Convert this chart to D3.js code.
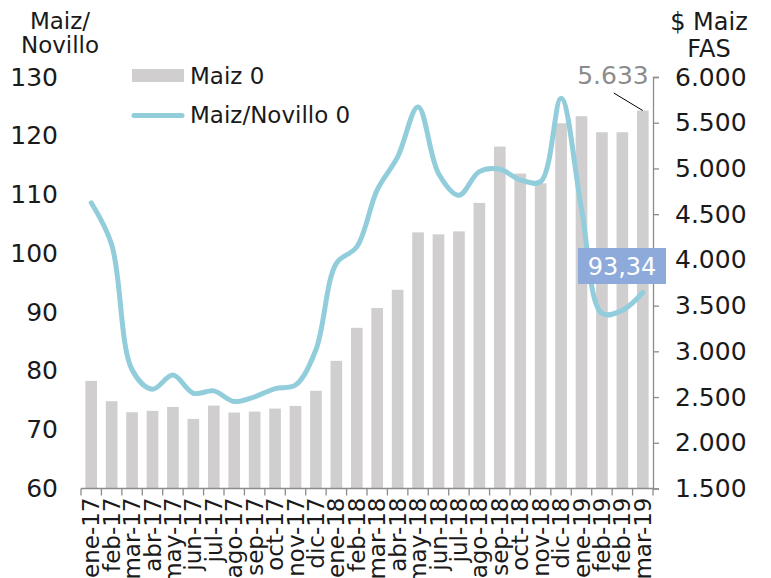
<!DOCTYPE html>
<html>
<head>
<meta charset="utf-8">
<script src="https://cdn.jsdelivr.net/npm/d3@7"></script>
<style>
  body { margin: 0; background: #fff; }
  svg { font-family: "DejaVu Sans", sans-serif; }
</style>
</head>
<body>
<svg id="chart" width="771" height="578"></svg>
<script>
// meses (feb-19 aparece dos veces en el original)
var months = ['ene-17','feb-17','mar-17','abr-17','may-17','jun-17','jul-17','ago-17','sep-17','oct-17','nov-17','dic-17',
              'ene-18','feb-18','mar-18','abr-18','may-18','jun-18','jul-18','ago-18','sep-18','oct-18','nov-18','dic-18',
              'ene-19','feb-19','feb-19','mar-19'];
// $ Maiz FAS (barras, eje derecho)
var maiz = [2677, 2455, 2334, 2349, 2392, 2261, 2407, 2330, 2341, 2374, 2403, 2568,
            2896, 3257, 3473, 3673, 4301, 4279, 4312, 4623, 5239, 4944, 4837, 5494,
            5571, 5396, 5396, 5633];
// relacion Maiz/Novillo (linea, eje izquierdo)
var maizNovillo = [108.6, 101.5, 80.2, 76.9, 79.3, 76.2, 76.6, 74.8, 75.6, 77.0, 77.6, 83.6,
                   98.3, 101.1, 110.8, 116.4, 124.9, 113.6, 109.9, 113.9, 114.3, 112.5, 112.2, 126.4,
                   107.6, 89.8, 90.3, 93.34];
var leftTicks = [60, 70, 80, 90, 100, 110, 120, 130];
var rightTicks = [1500, 2000, 2500, 3000, 3500, 4000, 4500, 5000, 5500, 6000];

var svg = d3.select("#chart");
var pLeft = 81, pRight = 653, pTop = 77, pBottom = 488.5;

var locale = d3.formatLocale({decimal: ",", thousands: ".", grouping: [3], currency: ["$", ""]});
var fmtMiles = locale.format(",");
var fmtDec = locale.format(".2f");

var x = d3.scaleBand().domain(d3.range(months.length)).range([pLeft, pRight]).padding(0);
var yL = d3.scaleLinear().domain([60, 130]).range([pBottom, pTop]);
var yR = d3.scaleLinear().domain([1500, 6000]).range([pBottom, pTop]);

var barW = x.bandwidth() * 0.57;

// barras
svg.append("g").selectAll("rect")
  .data(maiz)
  .enter().append("rect")
  .attr("x", function(d, i) { return x(i) + (x.bandwidth() - barW) / 2; })
  .attr("width", barW)
  .attr("y", function(d) { return yR(d); })
  .attr("height", function(d) { return yR(1500) - yR(d); })
  .attr("fill", "#d0cecf");

// eje x
var gx = svg.append("g").attr("transform", "translate(0," + pBottom + ")");
gx.append("line").attr("x1", pLeft).attr("x2", pRight).attr("stroke", "#8c8c8c").attr("stroke-width", 1.3);
gx.selectAll(".tk")
  .data(d3.range(months.length + 1))
  .enter().append("line")
  .attr("x1", function(i) { return i < months.length ? x(i) : pRight; })
  .attr("x2", function(i) { return i < months.length ? x(i) : pRight; })
  .attr("y1", 0).attr("y2", 7)
  .attr("stroke", "#8c8c8c").attr("stroke-width", 1.3);
gx.selectAll("text")
  .data(months)
  .enter().append("text")
  .attr("transform", function(d, i) {
    return "translate(" + (x(i) + x.bandwidth() / 2 + 8) + ",9) rotate(-90)";
  })
  .attr("text-anchor", "end")
  .attr("font-size", 23)
  .attr("fill", "#1a1a1a")
  .text(function(d) { return d; });

// eje derecho
var gr = svg.append("g")
  .attr("transform", "translate(" + pRight + ",0)")
  .call(d3.axisRight(yR).tickValues(rightTicks).tickFormat(fmtMiles).tickSize(6).tickPadding(16));
gr.select(".domain").attr("stroke", "#8c8c8c").attr("stroke-width", 1.3);
gr.selectAll(".tick line").attr("stroke", "#8c8c8c").attr("stroke-width", 1.3);
gr.selectAll(".tick text").attr("font-size", 25).attr("fill", "#1a1a1a").attr("font-family", "DejaVu Sans");

// eje izquierdo (solo etiquetas)
var gl = svg.append("g")
  .attr("transform", "translate(" + pLeft + ",0)")
  .call(d3.axisLeft(yL).tickValues(leftTicks).tickSize(0).tickPadding(23));
gl.select(".domain").remove();
gl.selectAll(".tick text").attr("font-size", 25).attr("fill", "#1a1a1a").attr("font-family", "DejaVu Sans");

// linea Maiz/Novillo
var line = d3.line()
  .x(function(d, i) { return x(i) + x.bandwidth() / 2; })
  .y(function(d) { return yL(d); })
  .curve(d3.curveCatmullRom.alpha(0.5));
svg.append("path")
  .datum(maizNovillo)
  .attr("d", line)
  .attr("fill", "none")
  .attr("stroke", "#92cddc")
  .attr("stroke-width", 5)
  .attr("stroke-linecap", "round");

// titulos de ejes
svg.append("text").attr("x", 60).attr("y", 29).attr("text-anchor", "middle")
  .attr("font-size", 23).attr("fill", "#1a1a1a").text("Maiz/");
svg.append("text").attr("x", 60).attr("y", 53).attr("text-anchor", "middle")
  .attr("font-size", 23).attr("fill", "#1a1a1a").text("Novillo");
svg.append("text").attr("x", 709).attr("y", 30).attr("text-anchor", "middle")
  .attr("font-size", 24).attr("fill", "#1a1a1a").text("$ Maiz");
svg.append("text").attr("x", 709).attr("y", 57).attr("text-anchor", "middle")
  .attr("font-size", 24).attr("fill", "#1a1a1a").text("FAS");

// leyenda
svg.append("rect").attr("x", 132).attr("y", 69).attr("width", 52).attr("height", 13).attr("fill", "#d0cecf");
svg.append("text").attr("x", 190).attr("y", 84).attr("font-size", 23).attr("fill", "#1a1a1a").text("Maiz 0");
svg.append("line").attr("x1", 134).attr("x2", 182).attr("y1", 115.5).attr("y2", 115.5)
  .attr("stroke", "#92cddc").attr("stroke-width", 5).attr("stroke-linecap", "round");
svg.append("text").attr("x", 190).attr("y", 123).attr("font-size", 23).attr("fill", "#1a1a1a").text("Maiz/Novillo 0");

// etiqueta ultimo valor de barra
var last = maiz.length - 1;
var lx = x(last) + x.bandwidth() / 2;
svg.append("text").attr("x", lx + 6).attr("y", 84).attr("text-anchor", "end")
  .attr("font-size", 25).attr("fill", "#8c8c8c").text(fmtMiles(maiz[last]));
svg.append("line").attr("x1", lx - 29).attr("y1", 93).attr("x2", lx).attr("y2", yR(maiz[last]))
  .attr("stroke", "#000").attr("stroke-width", 1);

// etiqueta ultimo valor de linea
var lbl = svg.append("g").attr("transform", "translate(578,248)");
lbl.append("rect").attr("width", 88).attr("height", 36).attr("fill", "#8eaadb");
lbl.append("text").attr("x", 44).attr("y", 27).attr("text-anchor", "middle")
  .attr("font-size", 24).attr("fill", "#fff").text(fmtDec(maizNovillo[last]));
</script>
</body>
</html>
